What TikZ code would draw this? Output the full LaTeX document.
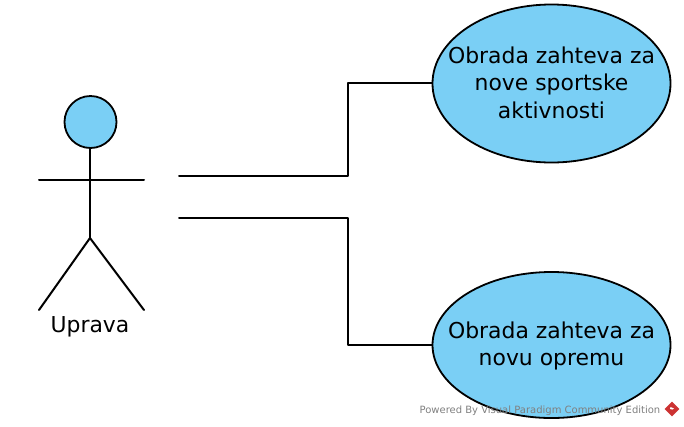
\documentclass[tikz,border=0pt]{standalone}
\usepackage{fontspec}
\setmainfont{DejaVu Sans}
\usetikzlibrary{shapes.geometric}
\definecolor{usecasefill}{RGB}{122,207,245}
\definecolor{brandgray}{RGB}{128,128,128}
\definecolor{brandred}{RGB}{204,51,51}
\tikzset{
  usecase/.style={ellipse, draw, line width=1.8pt, fill=usecasefill, inner sep=0pt},
  usecasetext/.style={inner sep=0pt, align=center, font=\fontsize{21.9}{27.6}\selectfont},
  actorline/.style={line width=2pt, line cap=round},
  assoc/.style={line width=2pt, line cap=round, line join=round},
}
\begin{document}
\begin{tikzpicture}[x=1pt, y=-1pt]
            \useasboundingbox (0,0) rectangle (684,426);
            % Use cases
            \node[usecase, minimum width=238pt, minimum height=158pt] (Nove) at (551.5,83.5) {};
            \node[usecase, minimum width=238pt, minimum height=146pt] (Oprema) at (551.5,345) {};
            \node[usecasetext] (NoveTekst) at (551.5,82.5) {Obrada zahteva za\\nove sportske\\aktivnosti};
            \node[usecasetext] (OpremaTekst) at (551.5,346) {Obrada zahteva za\\novu opremu};
            % Actor
            \node[circle, draw, line width=1.8pt, fill=usecasefill, minimum size=52pt, inner sep=0pt] (Glava) at (90.5,122) {};
            \coordinate (Ruka1) at (39,180);
            \coordinate (Ruka2) at (144,180);
            \coordinate (Kuk) at (90,238);
            \coordinate (Noga1) at (39,310);
            \coordinate (Noga2) at (144,310);
            \draw[actorline] (Glava.south -| Kuk) -- (Kuk);
            \draw[actorline] (Ruka1) -- (Ruka2);
            \draw[actorline] (Noga1) -- (Kuk) -- (Noga2);
            \node[font=\fontsize{21.9}{26}\selectfont] (Uprava) at (90,327) {Uprava};
            % Associations
            \coordinate (Veza1) at (179,176);
            \coordinate (Veza2) at (179,218);
            \draw[assoc] (Veza1) -- (348,176) -- (348,83) -- (Nove.west |- 0,83);
            \draw[assoc] (Veza2) -- (348,218) -- (348,345) -- (Oprema.west);
            % Watermark
            \node[anchor=east, text=brandgray, inner sep=0pt, font=\fontsize{10}{12}\selectfont] (Oznaka) at (660.5,410.5) {Powered By Visual Paradigm Community Edition};
            \node[diamond, fill=brandred, minimum size=15pt, inner sep=0pt] (Logo) at (672,409) {};
            \fill[white] (Logo.center) +(-1.5,-2) -- +(2,-0.5) -- +(0.5,0.5) -- +(-2,0) -- cycle;
\end{tikzpicture}
\end{document}
